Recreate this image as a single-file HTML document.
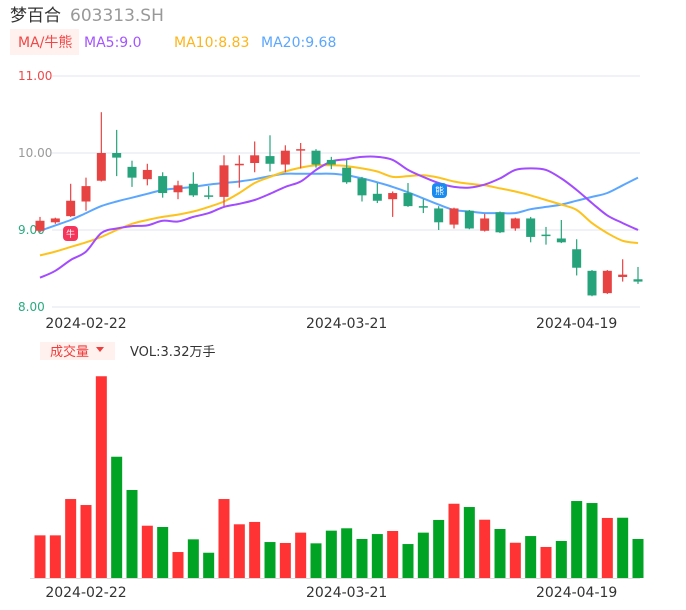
<!DOCTYPE html>
<html><head><meta charset="utf-8">
<style>
body{margin:0;background:#fff;width:686px;height:606px;overflow:hidden;font-family:"DejaVu Sans","Noto Sans CJK SC",sans-serif;}
svg text{font-family:"DejaVu Sans","Noto Sans CJK SC",sans-serif;}
</style></head><body>
<svg id="c" width="686" height="606" xmlns="http://www.w3.org/2000/svg">
<text x="10" y="21" font-size="17" fill="#333">梦百合</text>
<text x="70" y="21" font-size="17" fill="#999">603313.SH</text>
<rect x="10" y="29" width="69" height="26" fill="#fff1ee"/>
<text x="18" y="47" font-size="14" fill="#f04848">MA/牛熊</text>
<text x="84" y="47" font-size="14" fill="#a555ff">MA5:9.0</text>
<text x="174" y="47" font-size="14" fill="#fdb51b">MA10:8.83</text>
<text x="261" y="47" font-size="14" fill="#5ba7ff">MA20:9.68</text>
<rect x="40" y="342" width="75" height="18" fill="#fff1ee"/>
<text x="50" y="356" font-size="13" fill="#f03c3c">成交量</text>
<path d="M96 347 L104 347 L100 352 Z" fill="#f03c3c"/>
<text x="130" y="356" font-size="13" fill="#333">VOL:3.32万手</text>
<g id="grid"></g><g id="ma"></g><g id="candles"></g><g id="vol"></g><g id="xl"></g>
<g><rect x="63" y="226" width="15" height="15" rx="4" fill="#f5355b"/><text x="70.5" y="237" font-size="9" fill="#fff" text-anchor="middle">牛</text></g>
<g><rect x="432" y="183" width="15" height="15" rx="4" fill="#1a8cf0"/><text x="439.5" y="194" font-size="9" fill="#fff" text-anchor="middle">熊</text></g>
</svg>
<script>
const opens=[8.99,9.10,9.18,9.37,9.64,10.00,9.82,9.66,9.70,9.49,9.60,9.45,9.43,9.84,9.87,9.96,9.85,10.04,10.03,9.91,9.81,9.67,9.47,9.40,9.48,9.31,9.28,9.07,9.25,8.99,9.23,9.02,9.15,8.94,8.89,8.75,8.47,8.18,8.39,8.36];
const closes=[9.12,9.15,9.38,9.57,10.00,9.94,9.68,9.78,9.48,9.58,9.45,9.44,9.84,9.86,9.97,9.86,10.03,10.05,9.85,9.85,9.62,9.45,9.38,9.48,9.31,9.29,9.10,9.28,9.02,9.15,8.97,9.15,8.91,8.93,8.84,8.51,8.15,8.47,8.42,8.33];
const highs=[9.17,9.16,9.60,9.68,10.53,10.30,9.90,9.86,9.75,9.64,9.75,9.57,9.97,9.97,10.15,10.23,10.10,10.13,10.05,9.95,9.91,9.69,9.61,9.50,9.61,9.40,9.31,9.29,9.26,9.21,9.24,9.16,9.17,9.04,9.13,8.88,8.48,8.48,8.62,8.52];
const lows=[8.97,9.08,9.17,9.25,9.63,9.70,9.56,9.58,9.42,9.40,9.43,9.40,9.31,9.55,9.75,9.76,9.75,9.80,9.81,9.79,9.60,9.37,9.35,9.17,9.30,9.22,9.00,9.02,9.01,8.98,8.96,8.99,8.84,8.81,8.83,8.41,8.14,8.17,8.33,8.30];
const ma5=[8.38,8.47,8.61,8.72,8.96,9.02,9.05,9.06,9.12,9.11,9.17,9.22,9.30,9.34,9.39,9.47,9.56,9.63,9.78,9.89,9.92,9.95,9.95,9.91,9.78,9.69,9.61,9.56,9.55,9.59,9.67,9.78,9.80,9.78,9.67,9.52,9.35,9.19,9.09,9.00];
const ma10=[8.67,8.72,8.78,8.84,8.91,9.00,9.08,9.13,9.17,9.20,9.24,9.30,9.37,9.48,9.61,9.69,9.76,9.81,9.84,9.84,9.83,9.80,9.76,9.69,9.70,9.71,9.68,9.63,9.60,9.58,9.54,9.50,9.45,9.39,9.33,9.26,9.09,8.96,8.86,8.83];
const ma20=[8.99,9.06,9.13,9.22,9.31,9.37,9.42,9.47,9.52,9.54,9.56,9.59,9.61,9.63,9.66,9.70,9.73,9.73,9.73,9.73,9.71,9.67,9.62,9.56,9.49,9.41,9.33,9.26,9.24,9.22,9.22,9.22,9.27,9.30,9.33,9.38,9.43,9.48,9.58,9.68];
const volumes=[3.63,3.63,6.72,6.21,17.17,10.32,7.49,4.45,4.34,2.21,3.29,2.15,6.72,4.57,4.77,3.06,2.98,3.86,2.95,4.03,4.23,3.32,3.74,4.00,2.89,3.86,4.94,6.32,6.04,4.96,4.17,3.00,3.57,2.64,3.15,6.55,6.38,5.11,5.13,3.32];
const volUp=[1,1,1,1,1,0,0,1,0,1,0,0,1,1,1,0,1,1,0,0,0,0,0,1,0,0,0,1,0,1,0,1,0,1,0,0,0,1,0,0];
const yTicks=[11,10,9,8];
const yTickLabels=["11.00","10.00","9.00","8.00"];
const dateIdx=[3,20,35];
const dateLabels=["2024-02-22","2024-03-21","2024-04-19"];

const NS="http://www.w3.org/2000/svg";
const xOf=i=>40+i*(638-40)/39;
const yP=p=>153-(p-10)*77;
const yV=v=>578-v*11.75;
function mk(tag,attrs,parent){const e=document.createElementNS(NS,tag);for(const k in attrs)e.setAttribute(k,attrs[k]);document.getElementById(parent).appendChild(e);return e;}

const tickCol=["#f04848","#999","#2aaa80","#2aaa80"];
yTicks.forEach((t,i)=>{
  const l=mk('line',{x1:52,x2:640,y1:yP(t),y2:yP(t),stroke:'#e2e4f0','stroke-width':1},'grid');
  
  
  const tx=mk('text',{x:18,y:yP(t)+4,'font-size':12,fill:tickCol[i]},'grid');
  tx.textContent=yTickLabels[i];
  
  
});
mk('line',{x1:30,x2:640,y1:578.5,y2:578.5,stroke:'#ddd','stroke-width':1},'grid');

function smooth(arr){
  const pts=arr.map((v,i)=>[xOf(i),yP(v)]);
  let d='M'+pts[0][0].toFixed(1)+' '+pts[0][1].toFixed(1);
  for(let i=0;i<pts.length-1;i++){
    const p0=pts[Math.max(0,i-1)],p1=pts[i],p2=pts[i+1],p3=pts[Math.min(pts.length-1,i+2)];
    const c1=[p1[0]+(p2[0]-p0[0])/6,p1[1]+(p2[1]-p0[1])/6];
    const c2=[p2[0]-(p3[0]-p1[0])/6,p2[1]-(p3[1]-p1[1])/6];
    d+=' C'+c1.map(v=>v.toFixed(1)).join(' ')+' '+c2.map(v=>v.toFixed(1)).join(' ')+' '+p2.map(v=>v.toFixed(1)).join(' ');
  }
  return d;
}
[[ma20,'#5ba7ff','ma20-line'],[ma10,'#fdc21b','ma10-line'],[ma5,'#a24bff','ma5-line']].forEach(([arr,c,n])=>{
  const p=mk('path',{d:smooth(arr),fill:'none',stroke:c,'stroke-width':2,'stroke-linejoin':'round'},'ma');
  
  
});

opens.forEach((o,i)=>{
  const c=closes[i],up=c>=o,col=up?'#e84343':'#27a37c',x=xOf(i);
  const w=mk('line',{x1:x,x2:x,y1:yP(highs[i]),y2:yP(lows[i]),stroke:col,'stroke-width':1.2},'candles');
  
  
  const top=yP(Math.max(o,c)),h=Math.max(1.5,Math.abs(yP(o)-yP(c)));
  const r=mk('rect',{x:x-4.5,y:top,width:9,height:h,fill:col},'candles');
  
  
});

volumes.forEach((v,i)=>{
  const x=xOf(i);
  const r=mk('rect',{x:x-5.5,y:yV(v),width:11,height:578-yV(v),fill:volUp[i]?'#ff3333':'#00a324'},'vol');
  
  
});

dateIdx.forEach((di,k)=>{
  [328,597].forEach(y=>{
    const t=mk('text',{x:xOf(di),y:y,'font-size':14,fill:'#333','text-anchor':'middle'},'xl');
    t.textContent=dateLabels[k];
    
    
  });
});
</script>
</body></html>
